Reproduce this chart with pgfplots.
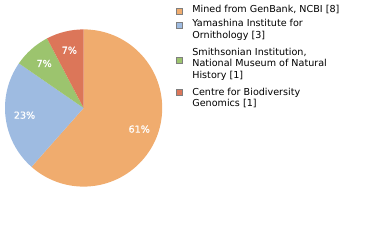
\documentclass[border=0pt]{standalone}
\usepackage{pgfplots}
\pgfplotsset{compat=1.18}
\usepackage{pgfplotstable}
\usepackage{fontspec}
\setmainfont{DejaVu Sans}
\newfontfamily\lblfont[FakeBold=0.8]{DejaVu Sans}
\definecolor{c0}{HTML}{F0AC6E}
\definecolor{c1}{HTML}{9EBBE1}
\definecolor{c2}{HTML}{9CC46E}
\definecolor{c3}{HTML}{DC7659}
\definecolor{sqborder}{HTML}{7F7F7F}
\newcommand\firstln[2]{\raisebox{0pt}[#1][\depth]{#2}}
\newcommand\lastln[1]{\raisebox{0pt}[\height][2pt]{#1}}
\pgfplotstableread{
value label
8 61
3 23
1 7
1 7
}\piedata
\begin{document}
\begin{tikzpicture}
\path[use as bounding box] (0,0) rectangle (380pt,240pt);
% cumulative angles, clockwise from 12 o'clock
\pgfmathsetmacro\total{0}
\foreach \i in {0,...,3}{%
  \pgfplotstablegetelem{\i}{value}\of\piedata
  \pgfmathsetmacro\t{\total+\pgfplotsretval}%
  \xdef\total{\t}%
}
\xdef\curang{90}
\foreach \i in {0,...,3}{%
  \pgfplotstablegetelem{\i}{value}\of\piedata
  \pgfmathsetmacro\e{\curang-\pgfplotsretval/\total*360}%
  \pgfmathsetmacro\m{(\curang+\e)/2}%
  \expandafter\xdef\csname sa\i\endcsname{\curang}%
  \expandafter\xdef\csname ea\i\endcsname{\e}%
  \expandafter\xdef\csname ma\i\endcsname{\m}%
  \pgfplotstablegetelem{\i}{label}\of\piedata
  \expandafter\xdef\csname lb\i\endcsname{\pgfplotsretval}%
  \xdef\curang{\e}%
}
\begin{axis}[
  hide axis, scale only axis, width=157.2pt, height=157.2pt,
  xmin=-1, xmax=1, ymin=-1, ymax=1,
  at={(83.6pt,132pt)}, anchor=center, clip=false,
  legend image code/.code={\draw[#1] (0pt,-3pt) rectangle (6pt,3pt);},
  legend cell align=left,
  legend style={draw=none, fill=none, inner sep=0pt,
    at={(1.0837,1.1533)}, anchor=north west,
    row sep=3.9pt, column sep=10.4pt,
    nodes={inner sep=0pt},
    cells={align=left},
    font={\fontsize{9.6}{11.7}\selectfont}},
]
\pgfplotsinvokeforeach{0,...,3}{
  \fill[c#1] (axis cs:0,0) -- ([shift={(\csname sa#1\endcsname:78.6pt)}]axis cs:0,0)
    arc[start angle=\csname sa#1\endcsname, end angle=\csname ea#1\endcsname, radius=78.6pt] -- cycle;
}
\pgfplotsinvokeforeach{0,...,3}{
  \node[white, font={\lblfont\fontsize{9.6}{11}\selectfont}] at ([shift={(\csname ma#1\endcsname:59.5pt)}]axis cs:0,0) {\csname lb#1\endcsname\%};
}
\addlegendimage{fill=c0, draw=sqborder, yshift=-1pt}
\addlegendentry{\raisebox{0pt}[7pt][2pt]{Mined from GenBank, NCBI [8]}}
\addlegendimage{fill=c1, draw=sqborder, yshift=3.2pt}
\addlegendentry{\firstln{8.5pt}{Yamashina Institute for}\\\lastln{Ornithology [3]}}
\addlegendimage{fill=c2, draw=sqborder, yshift=1.5pt}
\addlegendentry{\firstln{11.7pt}{Smithsonian Institution,}\\National Museum of Natural\\\lastln{History [1]}}
\addlegendimage{fill=c3, draw=sqborder, yshift=3.5pt}
\addlegendentry{\firstln{11.1pt}{Centre for Biodiversity}\\\lastln{Genomics [1]}}
\end{axis}
\end{tikzpicture}
\end{document}
